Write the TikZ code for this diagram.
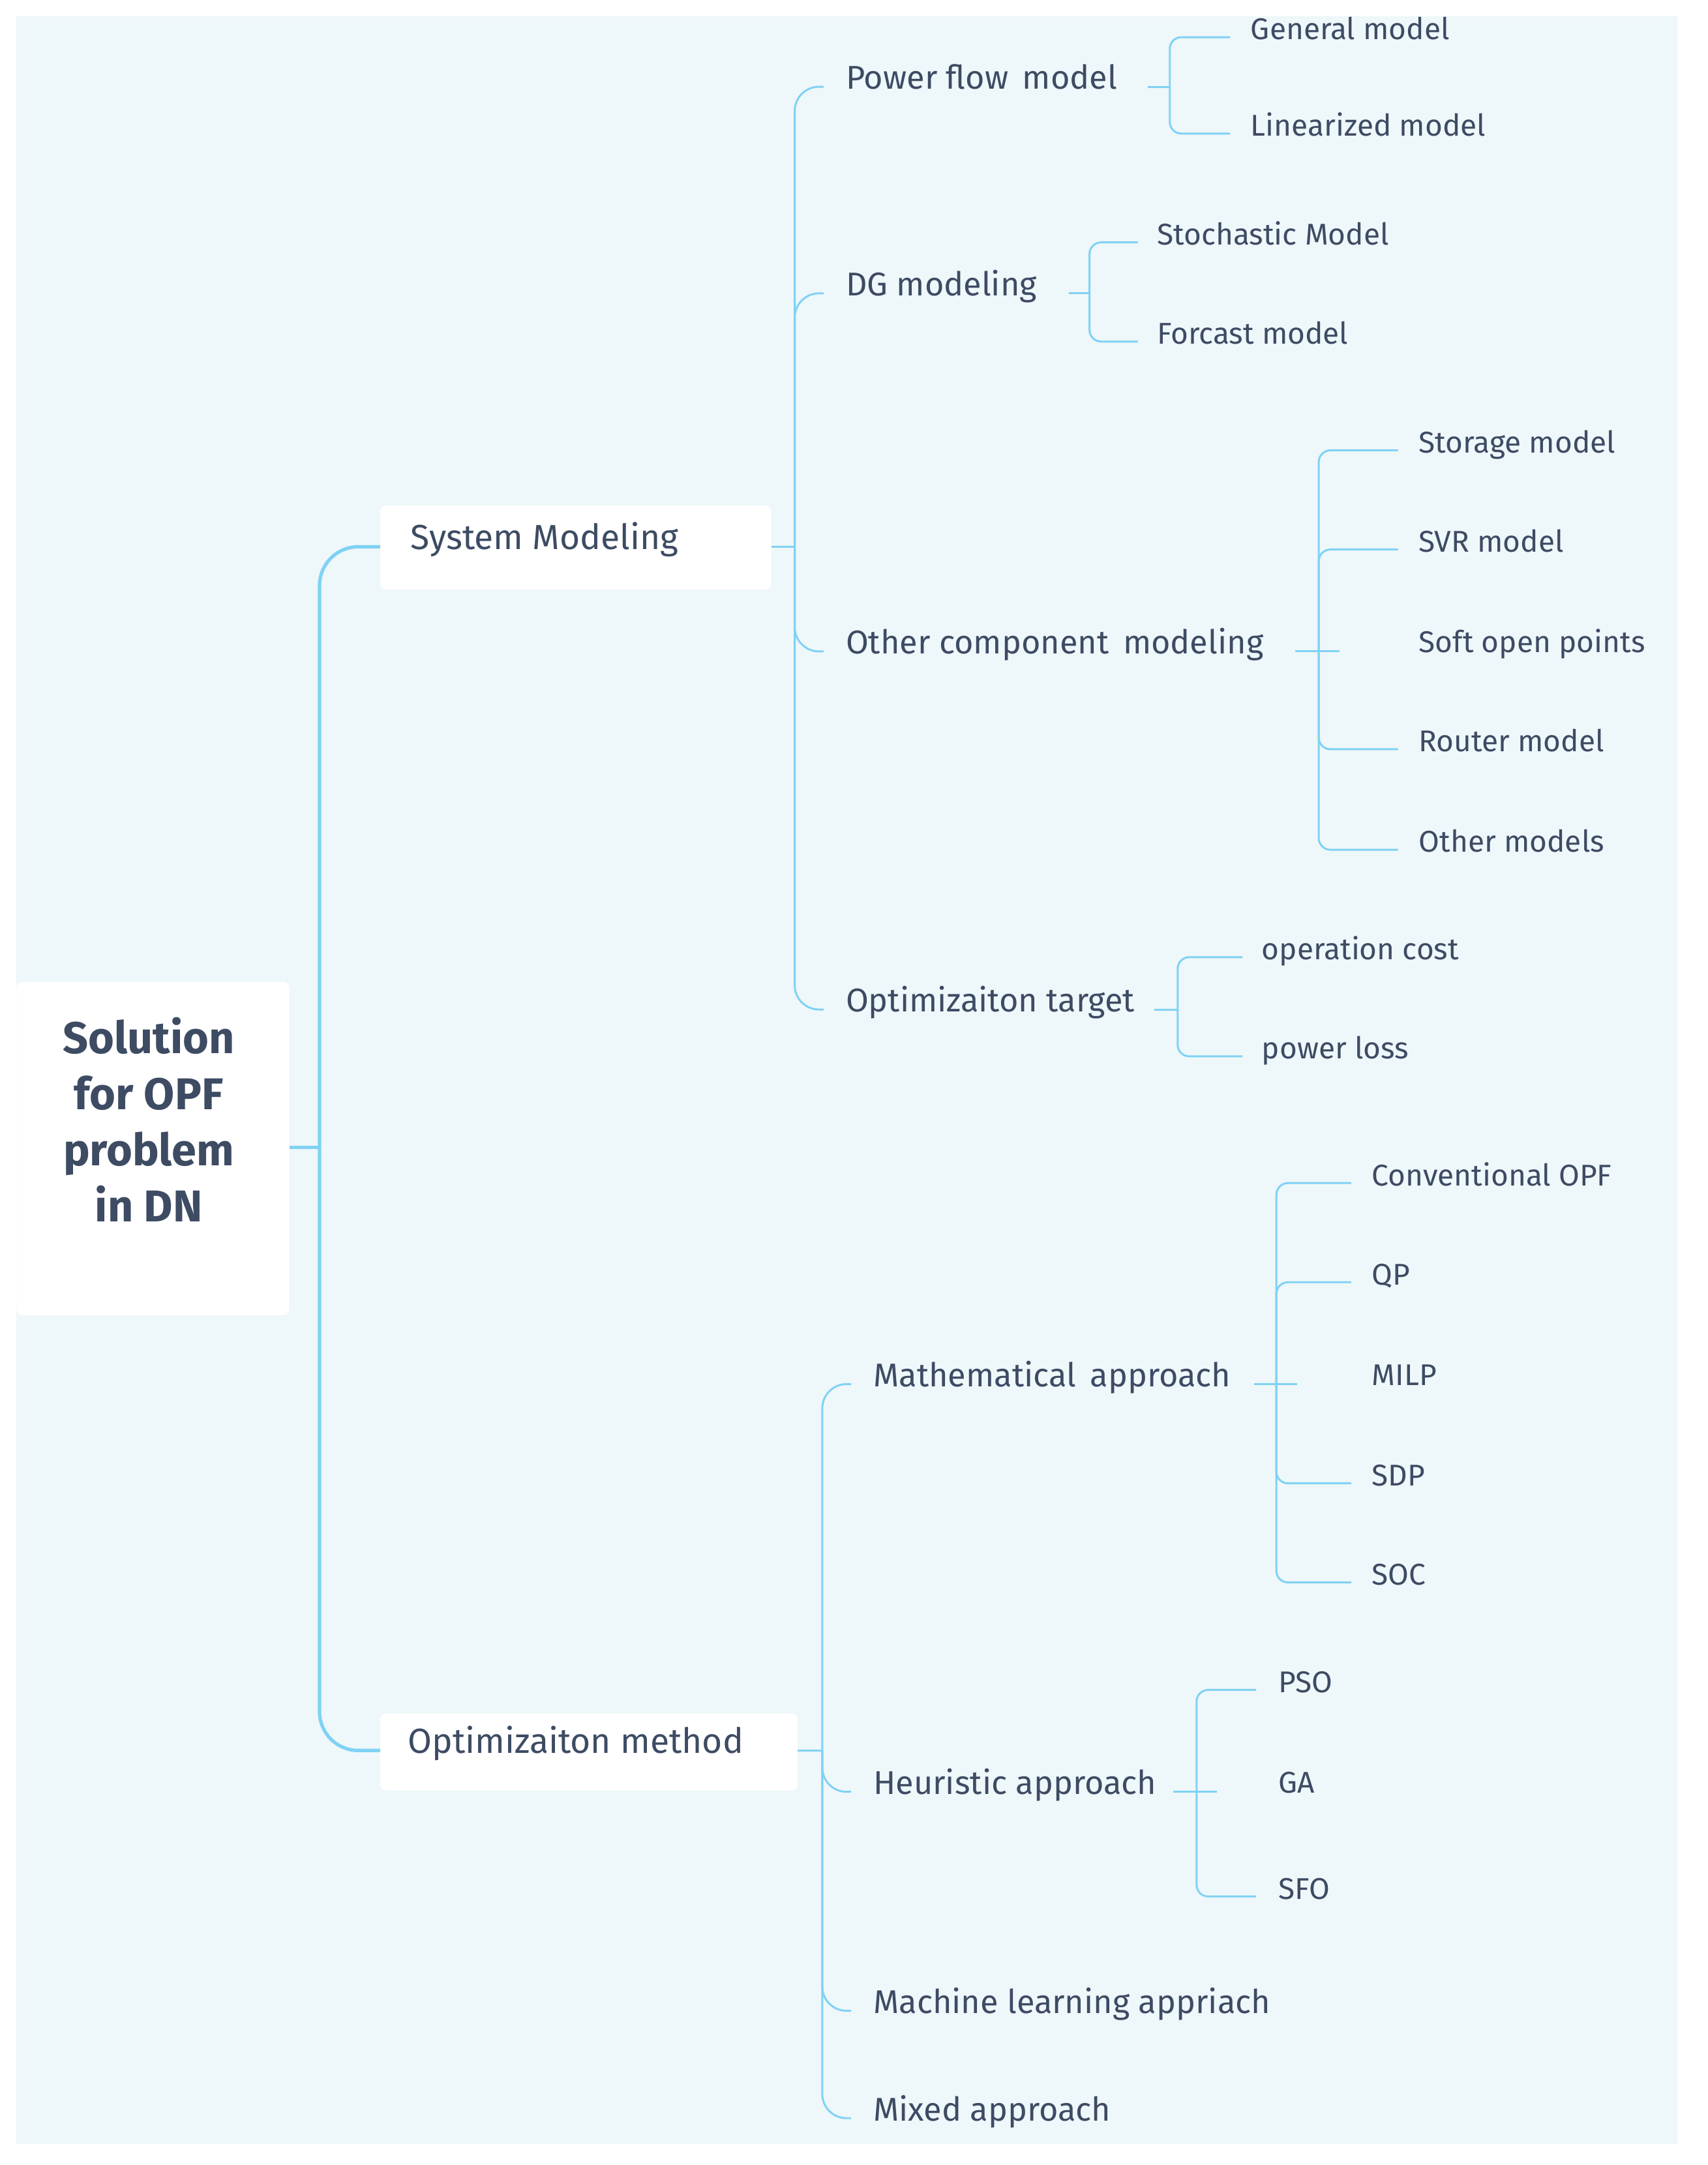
\documentclass[tikz,border=0pt]{standalone}
\usepackage{fontspec}
\setmainfont{Fira Sans}
\usetikzlibrary{calc}
\definecolor{bg}{HTML}{EEF7FA}
\definecolor{ln}{HTML}{7FD2F3}
\definecolor{tx}{HTML}{3D4B63}
\begin{document}
\begin{tikzpicture}[x=0.05cm,y=-0.05cm,
  e/.style={draw=ln,line width=2pt,rounded corners=12},
  er/.style={draw=ln,line width=3.5pt,rounded corners=40},
  em/.style={draw=ln,line width=2pt,rounded corners=25},
  l2/.style={anchor=west,inner sep=0,text=tx,font=\fontsize{36}{40}\selectfont,text height=0.72em,text depth=0.2em},
  l3/.style={anchor=west,inner sep=0,text=tx,font=\fontsize{34}{38}\selectfont,text height=0.72em,text depth=0.2em},
  l4/.style={anchor=west,inner sep=0,text=tx,font=\fontsize{31}{34}\selectfont,text height=0.72em,text depth=0.2em},
  box/.style={fill=white,rounded corners=6}]
\useasboundingbox (0,0) rectangle (1240,1572);
\fill[bg] (12,12) rectangle (1218,1557);
% boxes
\fill[box] (12,713) rectangle (210,955);
\coordinate (root) at (210,833);
\node[text=tx,align=center,font=\bfseries\fontsize{46}{58}\selectfont] (rt) at (108,813) {Solution\\for OPF\\problem\\in DN};
\fill[box] (276,367) rectangle (560,428);
\coordinate (smE) at (560,397);
\node[l2] (sm) at (298,397) {System Modeling};
\fill[box] (276,1244) rectangle (579,1300);
\coordinate (omE) at (579,1271);
\node[l2] (om) at (296,1271) {Optimizaiton method};
% root edges
\draw[er] (root) -- (232,833) coordinate (rb);
\draw[er] (rb) |- (276,397);
\draw[er] (rb) |- (276,1271);
% level 2
\node[l3] (pf) at (614,63) {Power flow\, model};
\node[l3] (dg) at (614,213) {DG modeling};
\node[l3] (oc) at (614,473) {Other component\, modeling};
\node[l3] (ot) at (614,733) {Optimizaiton target};
\node[l3] (ma) at (634,1005) {Mathematical\, approach};
\node[l3] (ha) at (634,1301) {Heuristic approach};
\node[l3] (ml) at (634,1460) {Machine learning appriach};
\node[l3] (mx) at (634,1538) {Mixed approach};
\draw[em] (smE) -- (577,397) coordinate (b1);
\foreach \n in {pf,dg,oc,ot} \draw[em] (b1) |- ($(\n.west)+(-16,0)$);
\draw[em] (omE) -- (597,1271) coordinate (b2);
\foreach \n in {ma,ha,ml,mx} \draw[em] (b2) |- ($(\n.west)+(-16,0)$);
% leaves
\node[l4] (gm) at (908,27) {General model};
\node[l4] (lm) at (908,97) {Linearized model};
\node[l4] (st) at (840,176) {Stochastic Model};
\node[l4] (fm) at (840,248) {Forcast model};
\node[l4] (sto) at (1030,327) {Storage model};
\node[l4] (svr) at (1030,399) {SVR model};
\node[l4] (sop) at (1030,472) {Soft open points};
\node[l4] (rm) at (1030,544) {Router model};
\node[l4] (omd) at (1030,617) {Other models};
\node[l4] (oco) at (916,695) {operation cost};
\node[l4] (pl) at (916,767) {power loss};
\node[l4] (co) at (996,859) {Conventional OPF};
\node[l4] (qp) at (996,931) {QP};
\node[l4] (mi) at (996,1004) {MILP};
\node[l4] (sd) at (996,1077) {SDP};
\node[l4] (so) at (996,1149) {SOC};
\node[l4] (ps) at (928,1227) {PSO};
\node[l4] (ga) at (928,1300) {GA};
\node[l4] (sf) at (928,1377) {SFO};
\draw[e] ($(pf.east)+(22,0)$) -- ++(16,0) coordinate (c1);
\foreach \n in {gm,lm} \draw[e] (c1) |- ($(\n.west)+(-15,0)$);
\draw[e] ($(dg.east)+(23,0)$) -- ++(15,0) coordinate (c2);
\foreach \n in {st,fm} \draw[e] (c2) |- ($(\n.west)+(-14,0)$);
\draw[e] ($(oc.east)+(23,0)$) -- ++(17,0) coordinate (c3);
\draw[e] (c3) -- ++(15,0);
\foreach \n in {sto,svr,rm,omd} \draw[e] (c3) |- ($(\n.west)+(-15,0)$);
\draw[e] ($(ot.east)+(14,0)$) -- ++(17,0) coordinate (c4);
\foreach \n in {oco,pl} \draw[e] (c4) |- ($(\n.west)+(-14,0)$);
\draw[e] ($(ma.east)+(17,0)$) -- ++(16,0) coordinate (c5);
\draw[e] (c5) -- ++(15,0);
\foreach \n in {co,qp,sd,so} \draw[e] (c5) |- ($(\n.west)+(-15,0)$);
\draw[e] ($(ha.east)+(12,0)$) -- ++(17,0) coordinate (c6);
\draw[e] (c6) -- ++(15,0);
\foreach \n in {ps,sf} \draw[e] (c6) |- ($(\n.west)+(-16,0)$);
\end{tikzpicture}
\end{document}
